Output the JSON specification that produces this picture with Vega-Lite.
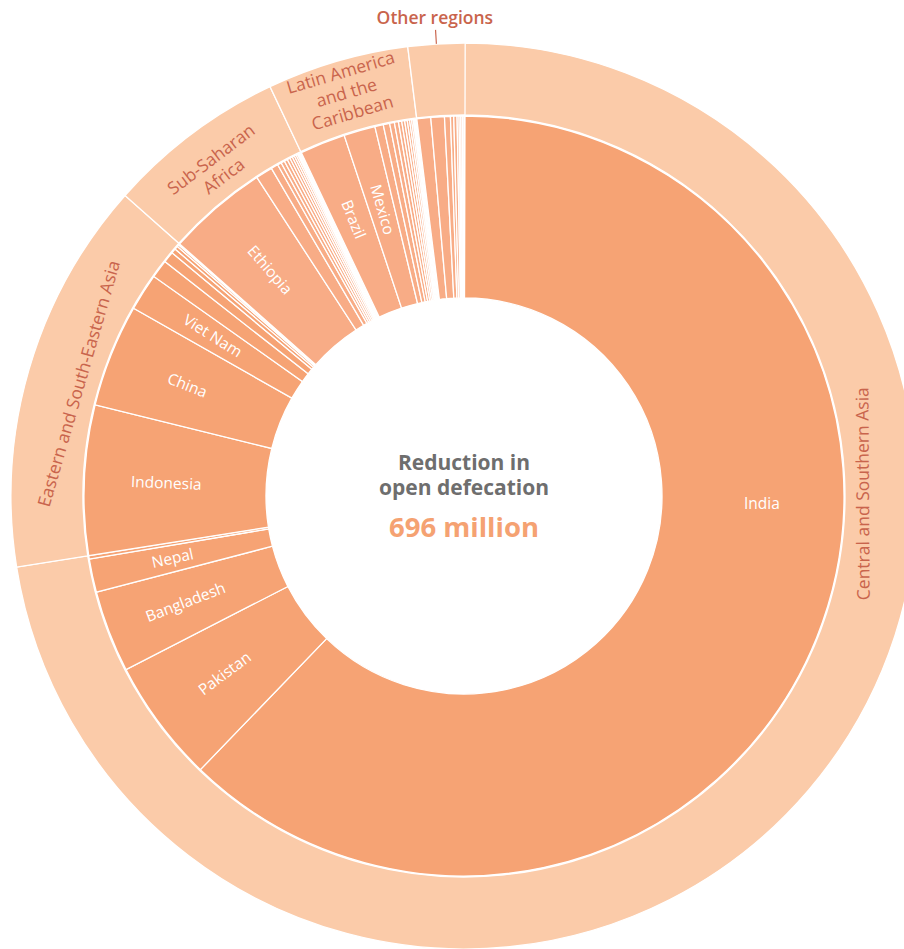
{
  "$schema": "https://vega.github.io/schema/vega-lite/v6.json",
  "width": 880,
  "height": 902,
  "autosize": {"type": "none"},
  "padding": {"left": 24, "top": 45, "right": 0, "bottom": 2},
  "background": "white",
  "view": {"stroke": null},
  "config": {"font": "Open Sans"},
  "datasets": {
    "countries": [
      {"i": 1, "region": "Central and Southern Asia", "country": "India", "value": 432.9},
      {"i": 2, "region": "Central and Southern Asia", "country": "Pakistan", "value": 36.5},
      {"i": 3, "region": "Central and Southern Asia", "country": "Bangladesh", "value": 24.2},
      {"i": 4, "region": "Central and Southern Asia", "country": "Nepal", "value": 9.9},
      {"i": 5, "region": "Central and Southern Asia", "country": "Other Central and Southern Asia", "value": 1.0},
      {"i": 6, "region": "Eastern and South-Eastern Asia", "country": "Indonesia", "value": 44.3},
      {"i": 7, "region": "Eastern and South-Eastern Asia", "country": "China", "value": 30.4},
      {"i": 8, "region": "Eastern and South-Eastern Asia", "country": "Viet Nam", "value": 11.0},
      {"i": 9, "region": "Eastern and South-Eastern Asia", "country": "Eastern and South-Eastern Asia 4", "value": 5.4},
      {"i": 10, "region": "Eastern and South-Eastern Asia", "country": "Eastern and South-Eastern Asia 5", "value": 3.3},
      {"i": 11, "region": "Eastern and South-Eastern Asia", "country": "Eastern and South-Eastern Asia 6", "value": 1.4},
      {"i": 12, "region": "Eastern and South-Eastern Asia", "country": "Eastern and South-Eastern Asia 7", "value": 1.0},
      {"i": 13, "region": "Eastern and South-Eastern Asia", "country": "Eastern and South-Eastern Asia 8", "value": 0.6},
      {"i": 14, "region": "Eastern and South-Eastern Asia", "country": "Eastern and South-Eastern Asia 9", "value": 0.4},
      {"i": 15, "region": "Sub-Saharan Africa", "country": "Ethiopia", "value": 29.8},
      {"i": 16, "region": "Sub-Saharan Africa", "country": "Sub-Saharan Africa 2", "value": 5.0},
      {"i": 17, "region": "Sub-Saharan Africa", "country": "Sub-Saharan Africa 3", "value": 2.1},
      {"i": 18, "region": "Sub-Saharan Africa", "country": "Sub-Saharan Africa 4", "value": 1.16},
      {"i": 19, "region": "Sub-Saharan Africa", "country": "Sub-Saharan Africa 5", "value": 1.06},
      {"i": 20, "region": "Sub-Saharan Africa", "country": "Sub-Saharan Africa 6", "value": 0.97},
      {"i": 21, "region": "Sub-Saharan Africa", "country": "Sub-Saharan Africa 7", "value": 0.87},
      {"i": 22, "region": "Sub-Saharan Africa", "country": "Sub-Saharan Africa 8", "value": 0.77},
      {"i": 23, "region": "Sub-Saharan Africa", "country": "Sub-Saharan Africa 9", "value": 0.68},
      {"i": 24, "region": "Sub-Saharan Africa", "country": "Sub-Saharan Africa 10", "value": 0.58},
      {"i": 25, "region": "Sub-Saharan Africa", "country": "Sub-Saharan Africa 11", "value": 0.48},
      {"i": 26, "region": "Sub-Saharan Africa", "country": "Sub-Saharan Africa 12", "value": 0.39},
      {"i": 27, "region": "Sub-Saharan Africa", "country": "Sub-Saharan Africa 13", "value": 0.29},
      {"i": 28, "region": "Sub-Saharan Africa", "country": "Sub-Saharan Africa 14", "value": 0.19},
      {"i": 29, "region": "Sub-Saharan Africa", "country": "Sub-Saharan Africa 15", "value": 0.15},
      {"i": 30, "region": "Sub-Saharan Africa", "country": "Sub-Saharan Africa 16", "value": 0.14},
      {"i": 31, "region": "Latin America and the Caribbean", "country": "Brazil", "value": 13.5},
      {"i": 32, "region": "Latin America and the Caribbean", "country": "Mexico", "value": 9.3},
      {"i": 33, "region": "Latin America and the Caribbean", "country": "Latin America 3", "value": 2.5},
      {"i": 34, "region": "Latin America and the Caribbean", "country": "Latin America 4", "value": 1.9},
      {"i": 35, "region": "Latin America and the Caribbean", "country": "Latin America 5", "value": 1.4},
      {"i": 36, "region": "Latin America and the Caribbean", "country": "Latin America 6", "value": 1.2},
      {"i": 37, "region": "Latin America and the Caribbean", "country": "Latin America 7", "value": 0.97},
      {"i": 38, "region": "Latin America and the Caribbean", "country": "Latin America 8", "value": 0.87},
      {"i": 39, "region": "Latin America and the Caribbean", "country": "Latin America 9", "value": 0.77},
      {"i": 40, "region": "Latin America and the Caribbean", "country": "Latin America 10", "value": 0.68},
      {"i": 41, "region": "Latin America and the Caribbean", "country": "Latin America 11", "value": 0.58},
      {"i": 42, "region": "Latin America and the Caribbean", "country": "Latin America 12", "value": 0.48},
      {"i": 43, "region": "Latin America and the Caribbean", "country": "Latin America 13", "value": 0.39},
      {"i": 44, "region": "Latin America and the Caribbean", "country": "Latin America 14", "value": 0.29},
      {"i": 45, "region": "Latin America and the Caribbean", "country": "Latin America 15", "value": 0.19},
      {"i": 46, "region": "Latin America and the Caribbean", "country": "Latin America 16", "value": 0.1},
      {"i": 47, "region": "Latin America and the Caribbean", "country": "Latin America 17", "value": 0.1},
      {"i": 48, "region": "Other regions", "country": "Other regions 1", "value": 4.1},
      {"i": 49, "region": "Other regions", "country": "Other regions 2", "value": 4.0},
      {"i": 50, "region": "Other regions", "country": "Other regions 3", "value": 1.74},
      {"i": 51, "region": "Other regions", "country": "Other regions 4", "value": 0.97},
      {"i": 52, "region": "Other regions", "country": "Other regions 5", "value": 0.97},
      {"i": 53, "region": "Other regions", "country": "Other regions 6", "value": 0.58},
      {"i": 54, "region": "Other regions", "country": "Other regions 7", "value": 0.48},
      {"i": 55, "region": "Other regions", "country": "Other regions 8", "value": 0.48},
      {"i": 56, "region": "Other regions", "country": "Other regions 9", "value": 0.48},
      {"i": 57, "region": "Other regions", "country": "Other regions 10", "value": 0.29}
    ]
  },
  "data": {"name": "countries"},
  "transform": [
    {"joinaggregate": [{"op": "sum", "field": "value", "as": "total"}]},
    {"stack": "value", "groupby": [], "sort": [{"field": "i", "order": "ascending"}], "as": ["s0", "s1"]}
  ],
  "layer": [
    {
      "mark": {"type": "arc", "radius": 380, "radius2": 198, "stroke": "white", "strokeWidth": 1.3},
      "encoding": {
        "theta": {"field": "s0", "type": "quantitative", "scale": {"nice": false, "zero": true}},
        "theta2": {"field": "s1"},
        "color": {
          "field": "region",
          "type": "nominal",
          "scale": {
            "domain": ["Central and Southern Asia", "Eastern and South-Eastern Asia", "Sub-Saharan Africa", "Latin America and the Caribbean", "Other regions"],
            "range": ["#F6A374", "#F6A374", "#F8AC86", "#F8AC86", "#F8AC86"]
          },
          "legend": null
        }
      }
    },
    {
      "transform": [
        {"aggregate": [{"op": "min", "field": "s0", "as": "r0"}, {"op": "max", "field": "s1", "as": "r1"}], "groupby": ["region"]}
      ],
      "mark": {"type": "arc", "radius": 453, "radius2": 381, "stroke": "white", "strokeWidth": 1.3, "color": "#FBCBA9"},
      "encoding": {
        "theta": {"field": "r0", "type": "quantitative"},
        "theta2": {"field": "r1"}
      }
    },
    {
      "transform": [
        {"filter": "datum.value > 8"},
        {"calculate": "datum.s0 < 0.254 * datum.total && datum.s1 > 0.254 * datum.total ? 0.254 * datum.total : (datum.s0 + datum.s1) / 2", "as": "lp"},
        {"calculate": "datum.lp / datum.total * 360", "as": "deg"},
        {"calculate": "datum.value > 0.3 * datum.total ? 0 : (datum.deg < 180 ? datum.deg - 90 : datum.deg - 270)", "as": "rot"}
      ],
      "mark": {"type": "text", "radius": 298, "color": "white", "fontSize": 15.5, "fontWeight": 500, "align": "center", "baseline": "middle"},
      "encoding": {
        "theta": {"field": "lp", "type": "quantitative"},
        "text": {"field": "country", "type": "nominal"},
        "angle": {"field": "rot", "type": "quantitative", "scale": null}
      }
    },
    {
      "transform": [
        {"aggregate": [{"op": "min", "field": "s0", "as": "r0"}, {"op": "max", "field": "s1", "as": "r1"}, {"op": "max", "field": "total", "as": "total"}], "groupby": ["region"]},
        {"filter": "datum.region !== 'Other regions'"},
        {"calculate": "datum.r0 < 0.249 * datum.total && datum.r1 > 0.249 * datum.total ? 0.249 * datum.total : (datum.r0 + datum.r1) / 2", "as": "lp"},
        {"calculate": "datum.lp / datum.total * 360", "as": "deg"},
        {"calculate": "datum.deg < 270 ? datum.deg - 180 : datum.deg - 360", "as": "rot"},
        {"calculate": "datum.region === 'Sub-Saharan Africa' ? ['Sub-Saharan', 'Africa'] : datum.region === 'Latin America and the Caribbean' ? ['Latin America', 'and the', 'Caribbean'] : [datum.region]", "as": "label"},
        {"calculate": "400 + (length(datum.label) - 1) * 20", "as": "lr"}
      ],
      "mark": {"type": "text", "color": "#C9644C", "fontSize": 17.5, "fontWeight": 500, "lineHeight": 21, "align": "center", "baseline": "middle"},
      "encoding": {
        "theta": {"field": "lp", "type": "quantitative"},
        "radius": {"field": "lr", "type": "quantitative", "scale": null},
        "text": {"field": "label", "type": "nominal"},
        "angle": {"field": "rot", "type": "quantitative", "scale": null}
      }
    },
    {
      "transform": [
        {"aggregate": [{"op": "min", "field": "s0", "as": "r0"}, {"op": "max", "field": "s1", "as": "r1"}], "groupby": ["region"]},
        {"filter": "datum.region === 'Other regions'"},
        {"calculate": "(datum.r0 + datum.r1) / 2", "as": "lp"}
      ],
      "mark": {"type": "text", "radius": 478, "color": "#C9644C", "fontSize": 17.5, "fontWeight": 600, "align": "center", "baseline": "middle"},
      "encoding": {
        "theta": {"field": "lp", "type": "quantitative"},
        "text": {"field": "region", "type": "nominal"}
      }
    },
    {
      "transform": [
        {"aggregate": [{"op": "min", "field": "s0", "as": "r0"}, {"op": "max", "field": "s1", "as": "r1"}, {"op": "max", "field": "total", "as": "total"}], "groupby": ["region"]},
        {"filter": "datum.region === 'Other regions'"},
        {"calculate": "(datum.r0 + datum.r1) / 2 - 0.0002 * datum.total", "as": "a0"},
        {"calculate": "(datum.r0 + datum.r1) / 2 + 0.0002 * datum.total", "as": "a1"}
      ],
      "mark": {"type": "arc", "radius": 467, "radius2": 453, "color": "#C9644C"},
      "encoding": {
        "theta": {"field": "a0", "type": "quantitative"},
        "theta2": {"field": "a1"}
      }
    },
    {
      "data": {"values": [{"caption": ["Reduction in", "open defecation"]}]},
      "mark": {"type": "text", "color": "#6E6E6E", "fontSize": 21, "fontWeight": "bold", "lineHeight": 25, "align": "center", "baseline": "middle", "dy": -32},
      "encoding": {
        "text": {"field": "caption", "type": "nominal"}
      }
    },
    {
      "transform": [
        {"aggregate": [{"op": "sum", "field": "value", "as": "sum"}]},
        {"calculate": "format(datum.sum, '.0f') + ' million'", "as": "label"}
      ],
      "mark": {"type": "text", "color": "#F5A272", "fontSize": 27.5, "fontWeight": "bold", "align": "center", "baseline": "middle", "dy": 33},
      "encoding": {
        "text": {"field": "label", "type": "nominal"}
      }
    }
  ]
}
